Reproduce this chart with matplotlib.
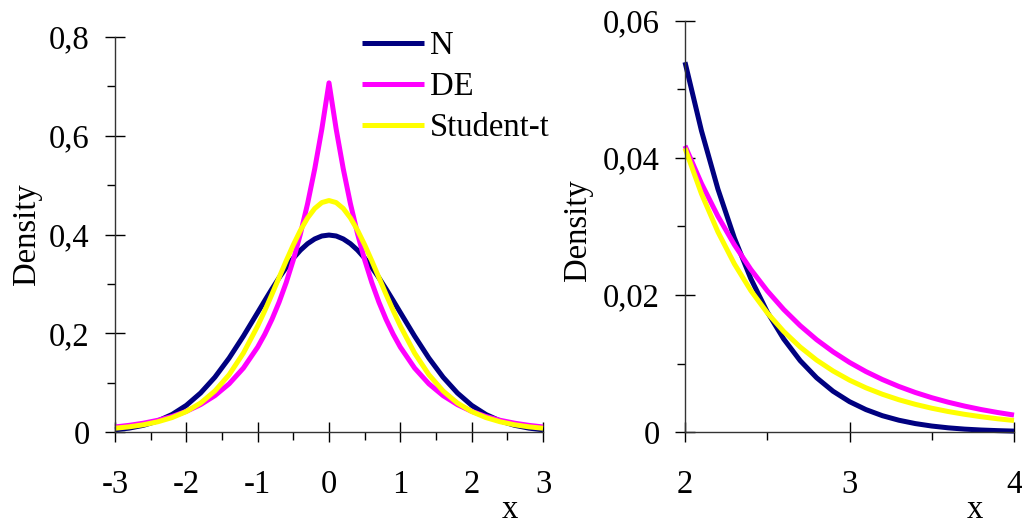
import matplotlib
matplotlib.use("Agg")
import matplotlib.pyplot as plt
from matplotlib.ticker import FixedLocator, FixedFormatter

# ---------------- data ----------------
x_left = [-3.0, -2.8, -2.6, -2.4, -2.2, -2.0, -1.8, -1.6, -1.4, -1.2,
          -1.0, -0.9, -0.8, -0.7, -0.6, -0.5, -0.4, -0.3, -0.2, -0.1,
          0.0, 0.1, 0.2, 0.3, 0.4, 0.5, 0.6, 0.7, 0.8, 0.9,
          1.0, 1.2, 1.4, 1.6, 1.8, 2.0, 2.2, 2.4, 2.6, 2.8, 3.0]

n_left = [0.0044, 0.0079, 0.0136, 0.0224, 0.0355, 0.0540, 0.0790, 0.1109, 0.1497, 0.1942,
          0.2420, 0.2661, 0.2897, 0.3123, 0.3332, 0.3521, 0.3683, 0.3814, 0.3910, 0.3970,
          0.3989, 0.3970, 0.3910, 0.3814, 0.3683, 0.3521, 0.3332, 0.3123, 0.2897, 0.2661,
          0.2420, 0.1942, 0.1497, 0.1109, 0.0790, 0.0540, 0.0355, 0.0224, 0.0136, 0.0079, 0.0044]

de_left = [0.0102, 0.0135, 0.0179, 0.0237, 0.0315, 0.0418, 0.0555, 0.0736, 0.0976, 0.1295,
           0.1719, 0.1980, 0.2281, 0.2628, 0.3027, 0.3487, 0.4016, 0.4626, 0.5329, 0.6139,
           0.7071, 0.6139, 0.5329, 0.4626, 0.4016, 0.3487, 0.3027, 0.2628, 0.2281, 0.1980,
           0.1719, 0.1295, 0.0976, 0.0736, 0.0555, 0.0418, 0.0315, 0.0237, 0.0179, 0.0135, 0.0102]

t_left = [0.0076, 0.0105, 0.0147, 0.0207, 0.0292, 0.0414, 0.0587, 0.0830, 0.1161, 0.1598,
          0.2147, 0.2458, 0.2788, 0.3128, 0.3467, 0.3791, 0.4086, 0.4336, 0.4527, 0.4647,
          0.4688, 0.4647, 0.4527, 0.4336, 0.4086, 0.3791, 0.3467, 0.3128, 0.2788, 0.2458,
          0.2147, 0.1598, 0.1161, 0.0830, 0.0587, 0.0414, 0.0292, 0.0207, 0.0147, 0.0105, 0.0076]

x_right = [2.0, 2.1, 2.2, 2.3, 2.4, 2.5, 2.6, 2.7, 2.8, 2.9, 3.0,
           3.1, 3.2, 3.3, 3.4, 3.5, 3.6, 3.7, 3.8, 3.9, 4.0]

n_right = [0.05399, 0.04398, 0.03547, 0.02833, 0.02239, 0.01753, 0.01358, 0.01042, 0.00792, 0.00595,
           0.00443, 0.00327, 0.00238, 0.00172, 0.00123, 0.00087, 0.00061, 0.00042, 0.00029, 0.00020, 0.00013]

de_right = [0.04179, 0.03628, 0.03150, 0.02734, 0.02374, 0.02061, 0.01789, 0.01553, 0.01348, 0.01171,
            0.01016, 0.00882, 0.00766, 0.00665, 0.00577, 0.00501, 0.00435, 0.00378, 0.00328, 0.00285, 0.00247]

t_right = [0.04143, 0.03478, 0.02922, 0.02455, 0.02065, 0.01740, 0.01468, 0.01241, 0.01050, 0.00891,
           0.00757, 0.00645, 0.00551, 0.00471, 0.00404, 0.00347, 0.00299, 0.00258, 0.00223, 0.00193, 0.00168]

series_names = ["N", "DE", "Student-t"]
series_colors = ["#000080", "#FF00FF", "#FFFF00"]

left_xticks = [-3, -2, -1, 0, 1, 2, 3]
left_xticklabels = ["-3", "-2", "-1", "0", "1", "2", "3"]
left_yticks = [0, 0.2, 0.4, 0.6, 0.8]
left_yticklabels = ["0", "0,2", "0,4", "0,6", "0,8"]
left_xminor = [-2.5, -1.5, -0.5, 0.5, 1.5, 2.5]
left_yminor = [0.1, 0.3, 0.5, 0.7]

right_xticks = [2, 3, 4]
right_xticklabels = ["2", "3", "4"]
right_yticks = [0, 0.02, 0.04, 0.06]
right_yticklabels = ["0", "0,02", "0,04", "0,06"]
right_xminor = [2.5, 3.5]
right_yminor = [0.01, 0.03, 0.05]

# ---------------- figure ----------------
plt.rcParams["font.family"] = ["Liberation Serif", "DejaVu Serif"]
FS = 23.5
W, H = 1022, 525
fig = plt.figure(figsize=(W / 100, H / 100), dpi=100)


def px_axes(l, r, b, t):
    return fig.add_axes([l / W, 1 - b / H, (r - l) / W, (b - t) / H])


ax1 = px_axes(115, 543, 432, 37)
ax2 = px_axes(685, 1014, 432, 21)

lw = 3.6
for ys, c, name in zip([n_left, de_left, t_left], series_colors, series_names):
    ax1.plot(x_left, ys, color=c, lw=lw, label=name, solid_capstyle="butt",
             solid_joinstyle="round", clip_on=False)
for ys, c in zip([n_right, de_right, t_right], series_colors):
    ax2.plot(x_right, ys, color=c, lw=lw, solid_capstyle="butt",
             solid_joinstyle="round", clip_on=False)


def style(ax, xlim, ylim, xt, xtl, yt, ytl, xm, ym):
    ax.set_xlim(*xlim)
    ax.set_ylim(*ylim)
    for s in ["top", "right"]:
        ax.spines[s].set_visible(False)
    for s in ["left", "bottom"]:
        ax.spines[s].set_linewidth(1.0)
        ax.spines[s].set_color("#333333")
    ax.xaxis.set_major_locator(FixedLocator(xt))
    ax.xaxis.set_major_formatter(FixedFormatter(xtl))
    ax.yaxis.set_major_locator(FixedLocator(yt))
    ax.yaxis.set_major_formatter(FixedFormatter(ytl))
    ax.xaxis.set_minor_locator(FixedLocator(xm))
    ax.yaxis.set_minor_locator(FixedLocator(ym))
    ax.tick_params(which="major", direction="inout", length=14.4, width=1.0,
                   labelsize=FS, color="black")
    ax.tick_params(which="minor", direction="out", length=5.8, width=1.0, color="black")
    ax.tick_params(axis="x", which="major", pad=20)
    ax.tick_params(axis="y", which="major", pad=11)
    ax.set_facecolor("none")


style(ax1, (-3, 3), (0, 0.8), left_xticks, left_xticklabels, left_yticks,
      left_yticklabels, left_xminor, left_yminor)
style(ax2, (2, 4), (0, 0.06), right_xticks, right_xticklabels, right_yticks,
      right_yticklabels, right_xminor, right_yminor)

# axis labels positioned as in the reference
fig.text(27 / W, 1 - 234 / H, "Density", rotation=90, ha="center", va="center", fontsize=FS)
fig.text(578 / W, 1 - 230 / H, "Density", rotation=90, ha="center", va="center", fontsize=FS)
fig.text(510 / W, 1 - 510 / H, "x", ha="center", va="center", fontsize=FS)
fig.text(975 / W, 1 - 510 / H, "x", ha="center", va="center", fontsize=FS)

leg = ax1.legend(loc="upper left", bbox_to_anchor=((362 - 115) / 428, 1 + (37 - 31) / 395),
                 frameon=False, fontsize=FS, handlelength=1.9, handletextpad=0.18,
                 labelspacing=0.32, borderaxespad=0, borderpad=0)

fig.savefig("out.png", dpi=100)
